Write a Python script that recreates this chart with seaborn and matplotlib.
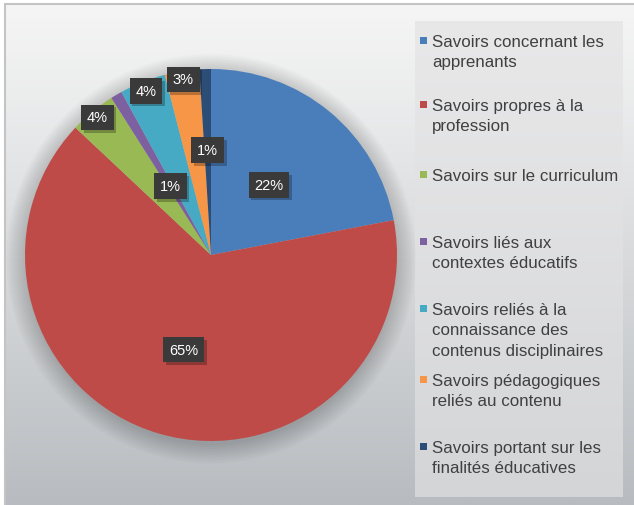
import matplotlib
matplotlib.use("Agg")
import matplotlib.pyplot as plt
import matplotlib.patheffects as pe
import numpy as np
import seaborn as sns
from matplotlib.patches import Rectangle, Circle

# données
categories = [
    "Savoirs concernant les\napprenants",
    "Savoirs propres à la\nprofession",
    "Savoirs sur le curriculum",
    "Savoirs liés aux\ncontextes éducatifs",
    "Savoirs reliés à la\nconnaissance des\ncontenus disciplinaires",
    "Savoirs pédagogiques\nreliés au contenu",
    "Savoirs portant sur les\nfinalités éducatives",
]
shares = [22, 65, 4, 1, 4, 3, 1]
pct_labels = ["22%", "65%", "4%", "1%", "4%", "3%", "1%"]

colors = sns.color_palette(["#4a7ebb", "#be4b48", "#98b954", "#7d60a0",
                            "#46aac5", "#f79646", "#2c4d75"])

sns.set_style("white")
plt.rcParams["font.family"] = ["Liberation Sans", "DejaVu Sans"]

W, H = 634, 506
fig = plt.figure(figsize=(W / 100, H / 100), dpi=100)
fig.patch.set_facecolor("white")

# fond en pixels
bg = fig.add_axes([0, 0, 1, 1])
bg.set_xlim(0, W)
bg.set_ylim(H, 0)
bg.axis("off")


def gradient(top, bottom, n=200):
    t = np.linspace(0, 1, n)[:, None, None] ** 1.1
    top = np.array(matplotlib.colors.to_rgb(top))
    bottom = np.array(matplotlib.colors.to_rgb(bottom))
    return np.repeat(top + (bottom - top) * t, 2, axis=1)


bg.imshow(gradient("#f5f5f5", "#b8bcc0"), extent=(5, W, H, 5), aspect="auto",
          interpolation="bilinear", zorder=0)
bg.plot([5, 5], [H, 5], color="#c4c4c4", lw=1.5, zorder=1)
bg.plot([5, W], [5, 5], color="#c4c4c4", lw=1.5, zorder=1)

# boite de legende
bg.imshow(gradient("#e8e8e9", "#d4d5d7"), extent=(415, 623, 498, 22), aspect="auto",
          interpolation="bilinear", zorder=2)
bg.set_xlim(0, W)
bg.set_ylim(H, 0)

entry_y = [42, 106, 176, 243, 310, 381, 448]
for lab, col, y in zip(categories, colors, entry_y):
    bg.add_patch(Rectangle((420, y - 4), 7, 7, color=col, lw=0, zorder=3))
    bg.text(432, y - 7, lab, ha="left", va="top", fontsize=12.2, color="#404040",
            linespacing=1.45, zorder=3)

# camembert
R = 186
cx, cy = 211, 256
ax = fig.add_axes([(cx - R) / W, (H - cy - R) / H, 2 * R / W, 2 * R / H])
wedges, _ = ax.pie(shares, colors=colors, startangle=90, counterclock=False,
                   radius=1, wedgeprops=dict(linewidth=0))
for r in np.linspace(1.0, 1.1, 10):
    ax.add_patch(Circle((0, -0.02), r, color="k", alpha=0.018, lw=0, zorder=0, clip_on=False))
ax.set_xlim(-1, 1)
ax.set_ylim(-1, 1)
ax.axis("off")

label_r = [0.49, 0.53, 0.96, 0.43, 0.95, 0.956, 0.565]
for w, txt, r in zip(wedges, pct_labels, label_r):
    th = np.deg2rad((w.theta1 + w.theta2) / 2)
    x, y = r * np.cos(th), r * np.sin(th)
    t = ax.text(x, y, txt, ha="center", va="center", fontsize=10.5, color="white",
                bbox=dict(boxstyle="square,pad=0.4", fc="#3a3a3a", ec="none"), zorder=5)
    t.get_bbox_patch().set_path_effects(
        [pe.SimplePatchShadow(offset=(2, -2), shadow_rgbFace="k", alpha=0.25), pe.Normal()])

fig.savefig("out.png", dpi=100)
